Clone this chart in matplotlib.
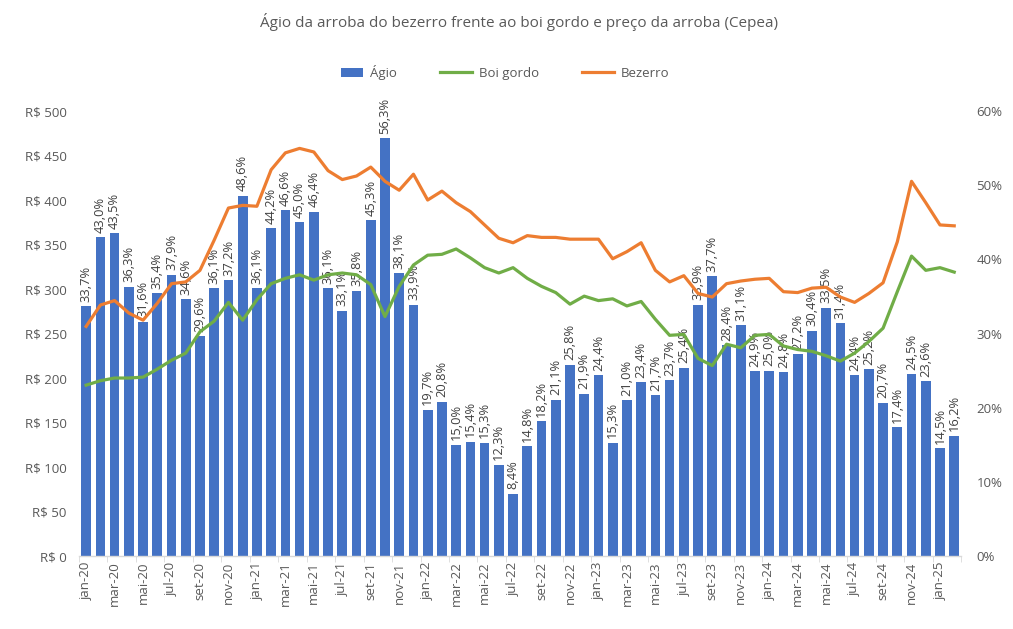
import matplotlib
matplotlib.use("Agg")
import matplotlib.pyplot as plt
from matplotlib.lines import Line2D
from matplotlib.patches import Patch, Rectangle
from matplotlib.legend_handler import HandlerPatch
import numpy as np

plt.rcParams['font.family'] = ['Open Sans', 'DejaVu Sans']

meses = ['jan', 'fev', 'mar', 'abr', 'mai', 'jun', 'jul', 'ago', 'set', 'out', 'nov', 'dez']
categorias = [f"{m}-{a}" for a in ['20', '21', '22', '23', '24'] for m in meses] + ['jan-25', 'fev-25']

agio = [33.7, 43.0, 43.5, 36.3, 31.6, 35.4, 37.9, 34.6, 29.6, 36.1, 37.2, 48.6,
        36.1, 44.2, 46.6, 45.0, 46.4, 36.1, 33.1, 35.8, 45.3, 56.3, 38.1, 33.9,
        19.7, 20.8, 15.0, 15.4, 15.3, 12.3, 8.4, 14.8, 18.2, 21.1, 25.8, 21.9,
        24.4, 15.3, 21.0, 23.4, 21.7, 23.7, 25.4, 33.9, 37.7, 28.4, 31.1, 24.9,
        25.0, 24.8, 27.2, 30.4, 33.5, 31.4, 24.4, 25.2, 20.7, 17.4, 24.5, 23.6,
        14.5, 16.2]

boi_gordo = [192, 197, 200, 200, 201, 210, 220, 228, 252, 264, 285, 265,
             288, 306, 312, 316, 310, 316, 318, 316, 305, 269, 303, 327,
             338, 339, 345, 335, 324, 318, 324, 312, 303, 296, 283, 292,
             287, 289, 281, 286, 266, 248, 249, 222, 214, 238, 234, 248,
             249, 236, 232, 230, 225, 219, 228, 241, 256, 297, 337, 321,
             324, 319]

bezerro = [258, 282, 287, 273, 265, 284, 306, 308, 321, 355, 391, 394,
           393, 434, 453, 458, 454, 433, 423, 427, 437, 421, 411, 429,
           400, 410, 397, 387, 372, 357, 352, 360, 358, 358, 356, 356,
           356, 334, 342, 352, 321, 308, 315, 295, 291, 306, 309, 311,
           312, 297, 296, 301, 302, 291, 285, 295, 307, 353, 421, 397,
           372, 371]

titulo = "Ágio da arroba do bezerro frente ao boi gordo e preço da arroba (Cepea)"

AZUL = '#4472C4'
VERDE = '#70AD47'
LARANJA = '#ED7D31'
CINZA = '#595959'

fig = plt.figure(figsize=(10.13, 6.29), dpi=100)
ax = fig.add_axes([0.078, 0.116, 0.871, 0.7075])
ax2 = ax.twinx()

x = np.arange(len(categorias))

# bars on secondary (percent) axis
ax2.bar(x, agio, width=0.68, color=AZUL, zorder=2)
for xi, v in zip(x, agio):
    ax2.text(xi, v + 0.6, f"{v:.1f}%".replace('.', ','), rotation=90,
             ha='center', va='bottom', fontsize=9.3, color='#404040', zorder=5)
ax2.set_ylim(0, 60)
ax2.set_yticks(np.arange(0, 61, 10))
ax2.set_yticklabels([f"{t}%" for t in range(0, 61, 10)])

# lines on primary axis (drawn on top)
ax.plot(x, boi_gordo, color=VERDE, lw=2.3, solid_joinstyle='round', zorder=3)
ax.plot(x, bezerro, color=LARANJA, lw=2.3, solid_joinstyle='round', zorder=3)
ax.set_ylim(0, 500)
ax.set_yticks(np.arange(0, 501, 50))
ax.set_yticklabels([f"R$ {t}" for t in range(0, 501, 50)])
ax.set_zorder(ax2.get_zorder() + 1)
ax.patch.set_visible(False)

ax.set_xlim(-0.5, len(categorias) - 0.5)
ax.set_xticks(x[::2])
ax.set_xticklabels(categorias[::2], rotation=90)
ax.set_xticks(np.arange(-0.5, len(categorias), 2), minor=True)

for a in (ax, ax2):
    for s in ('top', 'left', 'right', 'bottom'):
        a.spines[s].set_visible(False)
ax.spines['bottom'].set_visible(True)
ax.spines['bottom'].set_color('#D9D9D9')
ax.spines['bottom'].set_linewidth(1)

ax.tick_params(axis='y', length=0, labelsize=9.5, labelcolor=CINZA, pad=9)
ax2.tick_params(axis='y', length=0, labelsize=9.5, labelcolor=CINZA, pad=11)
ax.tick_params(axis='x', which='major', length=0, labelsize=9.5, labelcolor=CINZA, pad=4)
ax.tick_params(axis='x', which='minor', length=4, color='#D9D9D9')
ax2.tick_params(axis='x', length=0)

fig.text(0.512, 0.965, titulo, ha='center', va='center', fontsize=11, color=CINZA)


def rect_handle(legend, orig_handle, xdescent, ydescent, width, height, fontsize):
    w = width * 0.72
    return Rectangle((-xdescent + width - w, -ydescent), w, height)


handles = [Patch(facecolor=AZUL, edgecolor='none'),
           Line2D([0], [0], color=VERDE, lw=2.3),
           Line2D([0], [0], color=LARANJA, lw=2.3)]
fig.legend(handles, ['Ágio', 'Boi gordo', 'Bezerro'], loc='center',
           bbox_to_anchor=(0.494, 0.885), ncol=3, frameon=False, fontsize=9.5,
           labelcolor=CINZA, columnspacing=3.3, handlelength=2.4, handletextpad=0.5,
           handler_map={Patch: HandlerPatch(patch_func=rect_handle)})

fig.savefig('out.png', dpi=100)
